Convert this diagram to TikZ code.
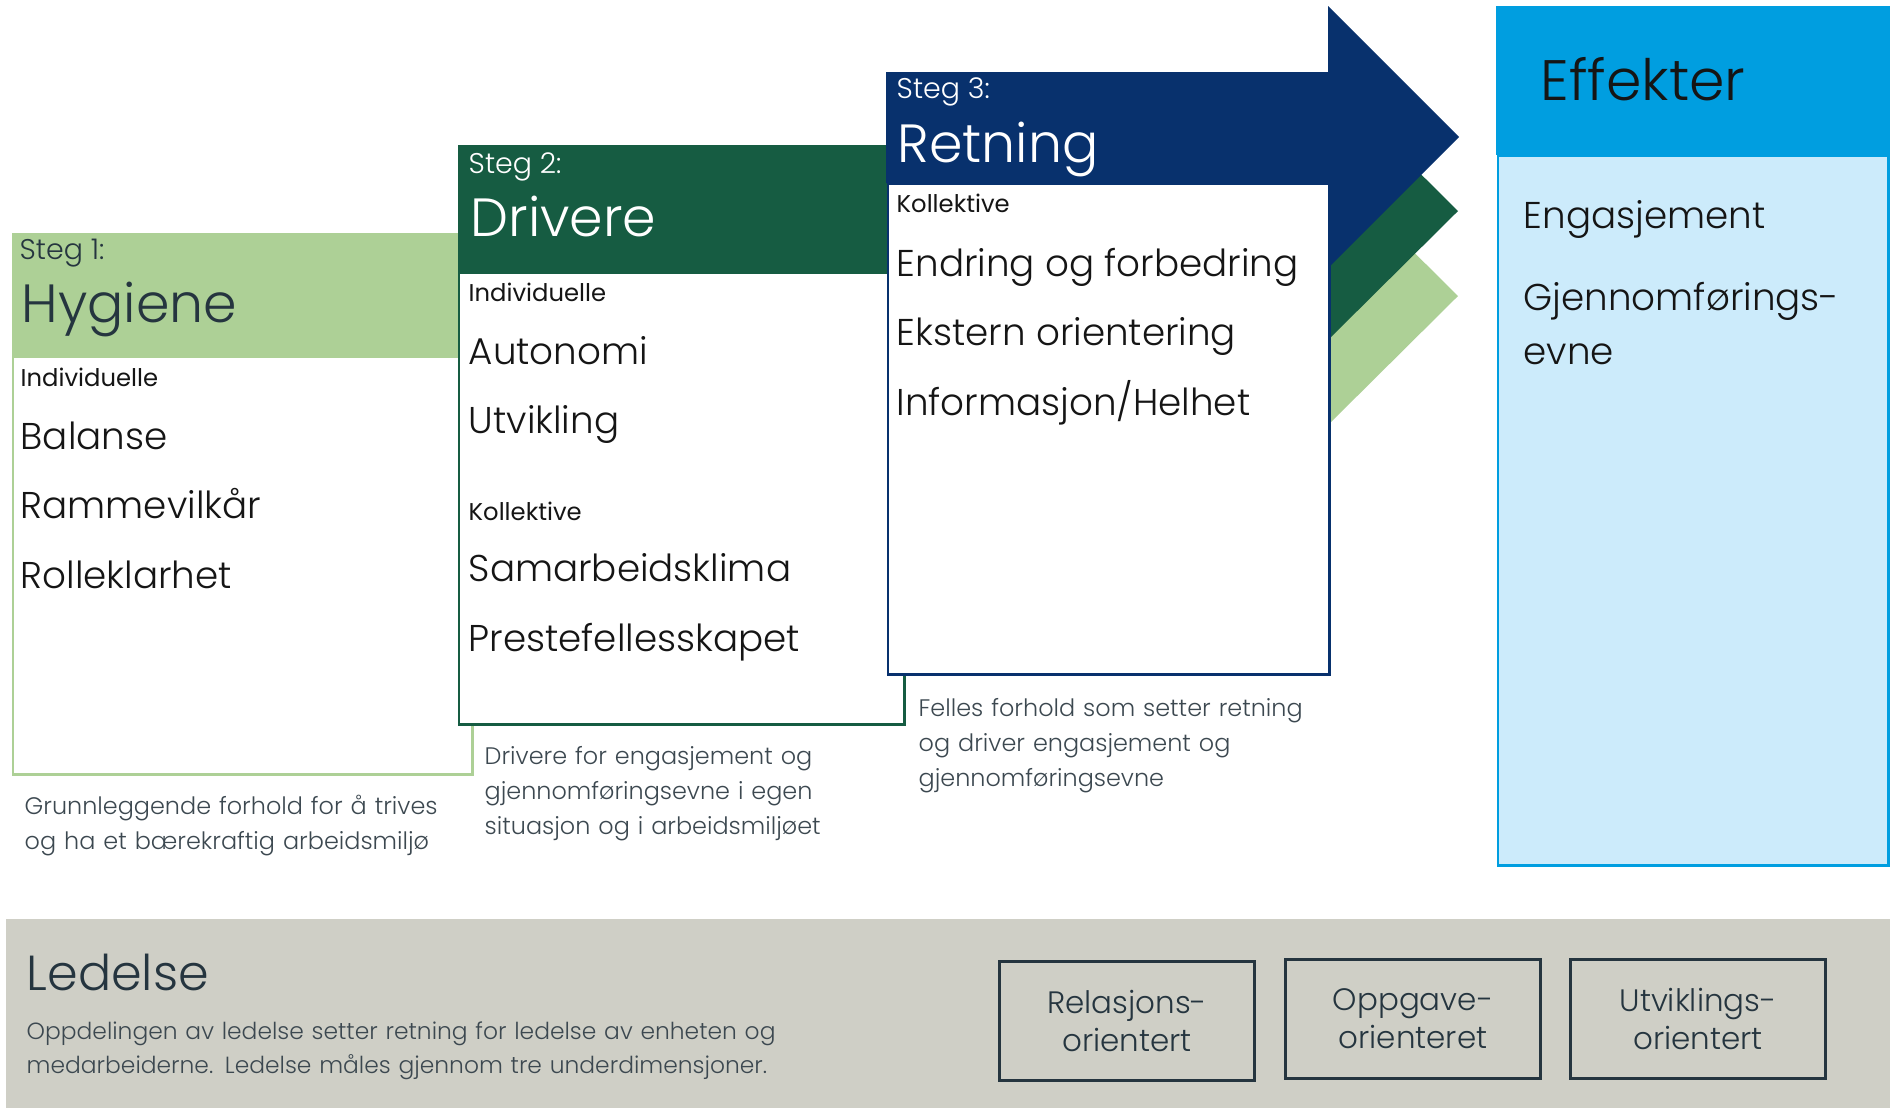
\documentclass[tikz,border=0pt]{standalone}
\usepackage{fontspec}
\setmainfont{Poppins Light}
\newfontfamily\regfont{Poppins}
\usetikzlibrary{positioning}

\definecolor{hygGreen}{HTML}{ADD096}
\definecolor{drvGreen}{HTML}{165C42}
\definecolor{retNavy}{HTML}{08316D}
\definecolor{effBlue}{HTML}{009EE0}
\definecolor{effLight}{HTML}{CCEBFB}
\definecolor{ledGray}{HTML}{CFCFC6}
\definecolor{slate}{HTML}{25353F}
\definecolor{descGray}{HTML}{3C4850}
\definecolor{ink}{HTML}{151515}

\begin{document}
\begin{tikzpicture}[
  x=0.01cm, y=-0.01cm,
  node distance=3.2mm,
  steg/.style={anchor=base west, inner sep=0pt, font=\fontsize{8.1}{9}\selectfont},
  heading/.style={anchor=base west, inner sep=0pt, font=\fontsize{15.3}{17}\selectfont},
  subhead/.style={inner sep=0pt, text height=1.8mm, text depth=0.5mm, text=ink, font=\regfont\fontsize{6.9}{8}\selectfont, anchor=base west},
  item/.style={inner sep=0pt, text height=2.8mm, text depth=0.8mm, text=ink, font=\fontsize{10.6}{12}\selectfont, anchor=north west},
  desc/.style={anchor=base west, inner sep=0pt, align=left, text width=6cm, text=descGray, font=\fontsize{6.8}{9.96}\selectfont},
  body/.style={draw, fill=white, line width=0.7pt, anchor=north west, inner sep=0pt},
  dimbox/.style={draw=slate, line width=0.85pt, minimum width=2.55cm, minimum height=1.18cm, align=center, text=slate, font=\fontsize{8.8}{10.8}\selectfont}
]
\useasboundingbox (0,0) rectangle (1890,1108);

% Step 1: Hygiene
\fill[hygGreen] (12,233) -- (1328,233) -- (1328,167) -- (1458,296) -- (1328,425) -- (1328,356) -- (12,356) -- cycle;
\node[body, draw=hygGreen, minimum width=4.59cm, minimum height=4.17cm] (HygieneBody) at (12,356) {};
\node[steg, text=slate] (Steg1) at (19,259) {Steg 1:};
\node[heading, text=slate] (Hygiene) at (21,322) {Hygiene};
\node[subhead] (Ind1) at (20,386) {Individuelle};
\node[below=2.9mm of Ind1.south west, item] (Balanse) {Balanse};
\node[below=of Balanse.south west, item] (Rammevilkar) {Rammevilkår};
\node[below=of Rammevilkar.south west, item] (Rolleklarhet) {Rolleklarhet};
\node[desc] (HygieneDesc) at (24,814) {Grunnleggende forhold for å trives\\og ha et bærekraftig arbeidsmiljø};

% Step 2: Drivere
\fill[drvGreen] (458,145) -- (1328,145) -- (1328,82) -- (1458,211) -- (1328,340) -- (1328,272) -- (458,272) -- cycle;
\node[body, draw=drvGreen, minimum width=4.45cm, minimum height=4.51cm] (DrivereBody) at (458,272) {};
\node[steg, text=white] (Steg2) at (468,173) {Steg 2:};
\node[heading, text=white] (Drivere) at (470,236) {Drivere};
\node[subhead] (Ind2) at (468,301) {Individuelle};
\node[below=2.9mm of Ind2.south west, item] (Autonomi) {Autonomi};
\node[below=of Autonomi.south west, item] (Utvikling) {Utvikling};
\node[below=5.9mm of Utvikling.south west, subhead, anchor=north west] (Kol2) {Kollektive};
\node[below=2.7mm of Kol2.south west, item] (Samarbeid) {Samarbeidsklima};
\node[below=of Samarbeid.south west, item] (Prestefelles) {Prestefellesskapet};
\node[desc] (DrivereDesc) at (484,764) {Drivere for engasjement og\\gjennomføringsevne i egen\\situasjon og i arbeidsmiljøet};

% Step 3: Retning
\fill[retNavy] (886,72) -- (1328,72) -- (1328,6) -- (1459,137) -- (1328,268) -- (1328,183) -- (886,183) -- cycle;
\node[body, draw=retNavy, minimum width=4.41cm, minimum height=4.90cm] (RetningBody) at (887,183) {};
\node[steg, text=white] (Steg3) at (896,98) {Steg 3:};
\node[heading, text=white] (Retning) at (897,162) {Retning};
\node[subhead] (Kol3) at (896,212) {Kollektive};
\node[below=3.0mm of Kol3.south west, item] (Endring) {Endring og forbedring};
\node[below=of Endring.south west, item] (Ekstern) {Ekstern orientering};
\node[below=of Ekstern.south west, item] (Informasjon) {Informasjon/Helhet};
\node[desc] (RetningDesc) at (918,716) {Felles forhold som setter retning\\og driver engasjement og\\gjennomføringsevne};

% Effekter
\fill[effBlue] (1496,6) rectangle (1890,155);
\node[body, draw=effBlue, fill=effLight, minimum width=3.90cm, minimum height=7.09cm] (EffekterBody) at (1497,155) {};
\node[heading, text=ink, font=\fontsize{16.2}{18}\selectfont] (Effekter) at (1540,100) {Effekter};
\node[item, anchor=base west] (Engasjement) at (1523,228) {Engasjement};
\node[item, anchor=base west] (Gjennomforing) at (1523,310) {Gjennomførings-};
\node[item, anchor=base west] (Evne) at (1523,364) {evne};

% Ledelse
\fill[ledGray] (6,919) rectangle (1890,1108);
\node[heading, text=slate, font=\fontsize{14}{16}\selectfont] (Ledelse) at (26,990) {Ledelse};
\node[desc, text width=9cm, font=\fontsize{6.65}{9.7}\selectfont] (LedelseDesc) at (26,1039) {Oppdelingen av ledelse setter retning for ledelse av enheten og\\medarbeiderne. Ledelse måles gjennom tre underdimensjoner.};
\node[dimbox] (Relasjon) at (1127,1021) {Relasjons-\\orientert};
\node[dimbox] (Oppgave) at (1413,1019) {Oppgave-\\orienteret};
\node[dimbox] (UtviklingsOr) at (1698,1019) {Utviklings-\\orientert};

\end{tikzpicture}
\end{document}
